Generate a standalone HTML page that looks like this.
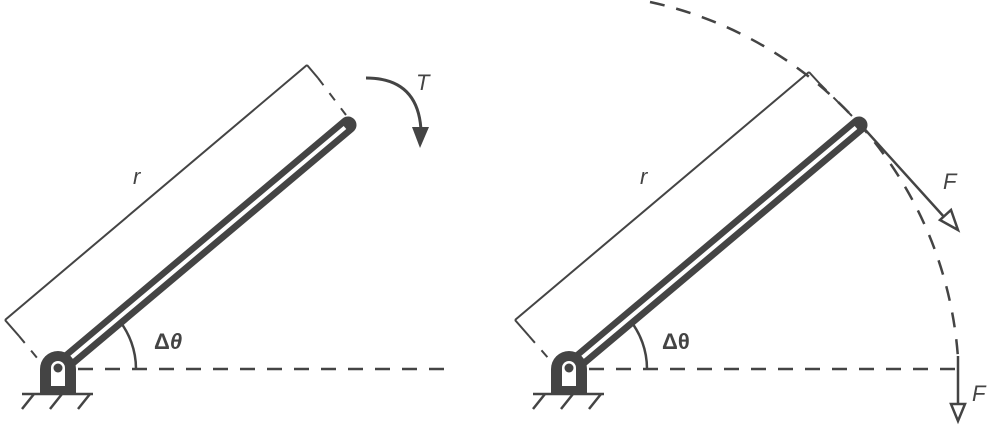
<!DOCTYPE html>
<html><head><meta charset="utf-8"><style>
html,body{margin:0;padding:0;background:#fff;width:1000px;height:425px;overflow:hidden}
svg{display:block}
text{font-family:"Liberation Sans",sans-serif;fill:#444}
</style></head><body>
<svg width="1000" height="425" viewBox="0 0 1000 425" xmlns="http://www.w3.org/2000/svg">
<defs>
<g id="mech">
  <line x1="20" y1="0" x2="395" y2="0" stroke="#444" stroke-width="2.5" stroke-dasharray="15,12"/>
  <path d="M 78 0 A 78 78 0 0 0 60 -50" fill="none" stroke="#444" stroke-width="2.5"/>
  <line x1="0" y1="0" x2="290" y2="-244" stroke="#444" stroke-width="17" stroke-linecap="round"/>
  <line x1="8" y1="-7" x2="287" y2="-241.5" stroke="#fff" stroke-width="4"/>
  <path d="M -18 25 V 0 A 18 18 0 0 1 18 0 V 25 Z" fill="#444"/>
  <path d="M -7 17 V -1 A 7 7 0 0 1 7 -1 V 17 Z" fill="#fff"/>
  <circle cx="0" cy="-1" r="4.5" fill="#444"/>
  <line x1="-36" y1="25" x2="35" y2="25" stroke="#444" stroke-width="2.5"/>
  <line x1="-24" y1="25" x2="-36" y2="40" stroke="#444" stroke-width="2.5"/>
  <line x1="4" y1="25" x2="-8" y2="40" stroke="#444" stroke-width="2.5"/>
  <line x1="32" y1="25" x2="20" y2="40" stroke="#444" stroke-width="2.5"/>
</g>
</defs>
<!-- left dimension -->
<g stroke="#444" stroke-width="2" fill="none">
  <line x1="5" y1="320" x2="307" y2="65"/>
  <line x1="5" y1="320" x2="19" y2="336"/>
  <line x1="19" y1="336" x2="38" y2="359" stroke-dasharray="9,10"/>
  <line x1="307" y1="65" x2="318" y2="78"/>
  <line x1="318" y1="78" x2="346" y2="115" stroke-dasharray="9,10"/>
  <!-- right dimension -->
  <line x1="515" y1="320" x2="809" y2="72"/>
  <line x1="515" y1="320" x2="529" y2="336"/>
  <line x1="529" y1="336" x2="549" y2="359" stroke-dasharray="9,10"/>
  <line x1="809" y1="72" x2="820" y2="84"/>
  <line x1="820" y1="84" x2="852" y2="116" stroke-dasharray="9,10"/>
</g>
<use href="#mech" transform="translate(58,369)"/>
<use href="#mech" transform="translate(569,369)"/>
<text x="133" y="184" font-size="22" font-style="italic">r</text>
<text x="640" y="184" font-size="22" font-style="italic">r</text>
<text x="154" y="349" font-size="22" font-weight="bold">Δ<tspan font-style="italic">θ</tspan></text>
<text x="662" y="349" font-size="22" font-weight="bold">Δθ</text>
<path d="M 366 78 Q 418 78 421 130" fill="none" stroke="#444" stroke-width="3"/>
<polygon points="412,127 429,127 420,148" fill="#444"/>
<text x="416" y="90" font-size="22" font-style="italic">T</text>
<path d="M 650 2 A 392 392 0 0 1 958 358" fill="none" stroke="#444" stroke-width="2.5" stroke-dasharray="15,12"/>
<line x1="860" y1="124" x2="945" y2="218" stroke="#444" stroke-width="2.5"/>
<polygon points="958,230 940,220 951,210" fill="#fff" stroke="#444" stroke-width="2.5"/>
<line x1="958" y1="356" x2="958" y2="404" stroke="#444" stroke-width="2.5"/>
<polygon points="951,404 965,404 958,421" fill="#fff" stroke="#444" stroke-width="2.5"/>
<text x="943" y="189" font-size="22" font-style="italic">F</text>
<text x="972" y="401" font-size="22" font-style="italic">F</text>
</svg>
</body></html>
